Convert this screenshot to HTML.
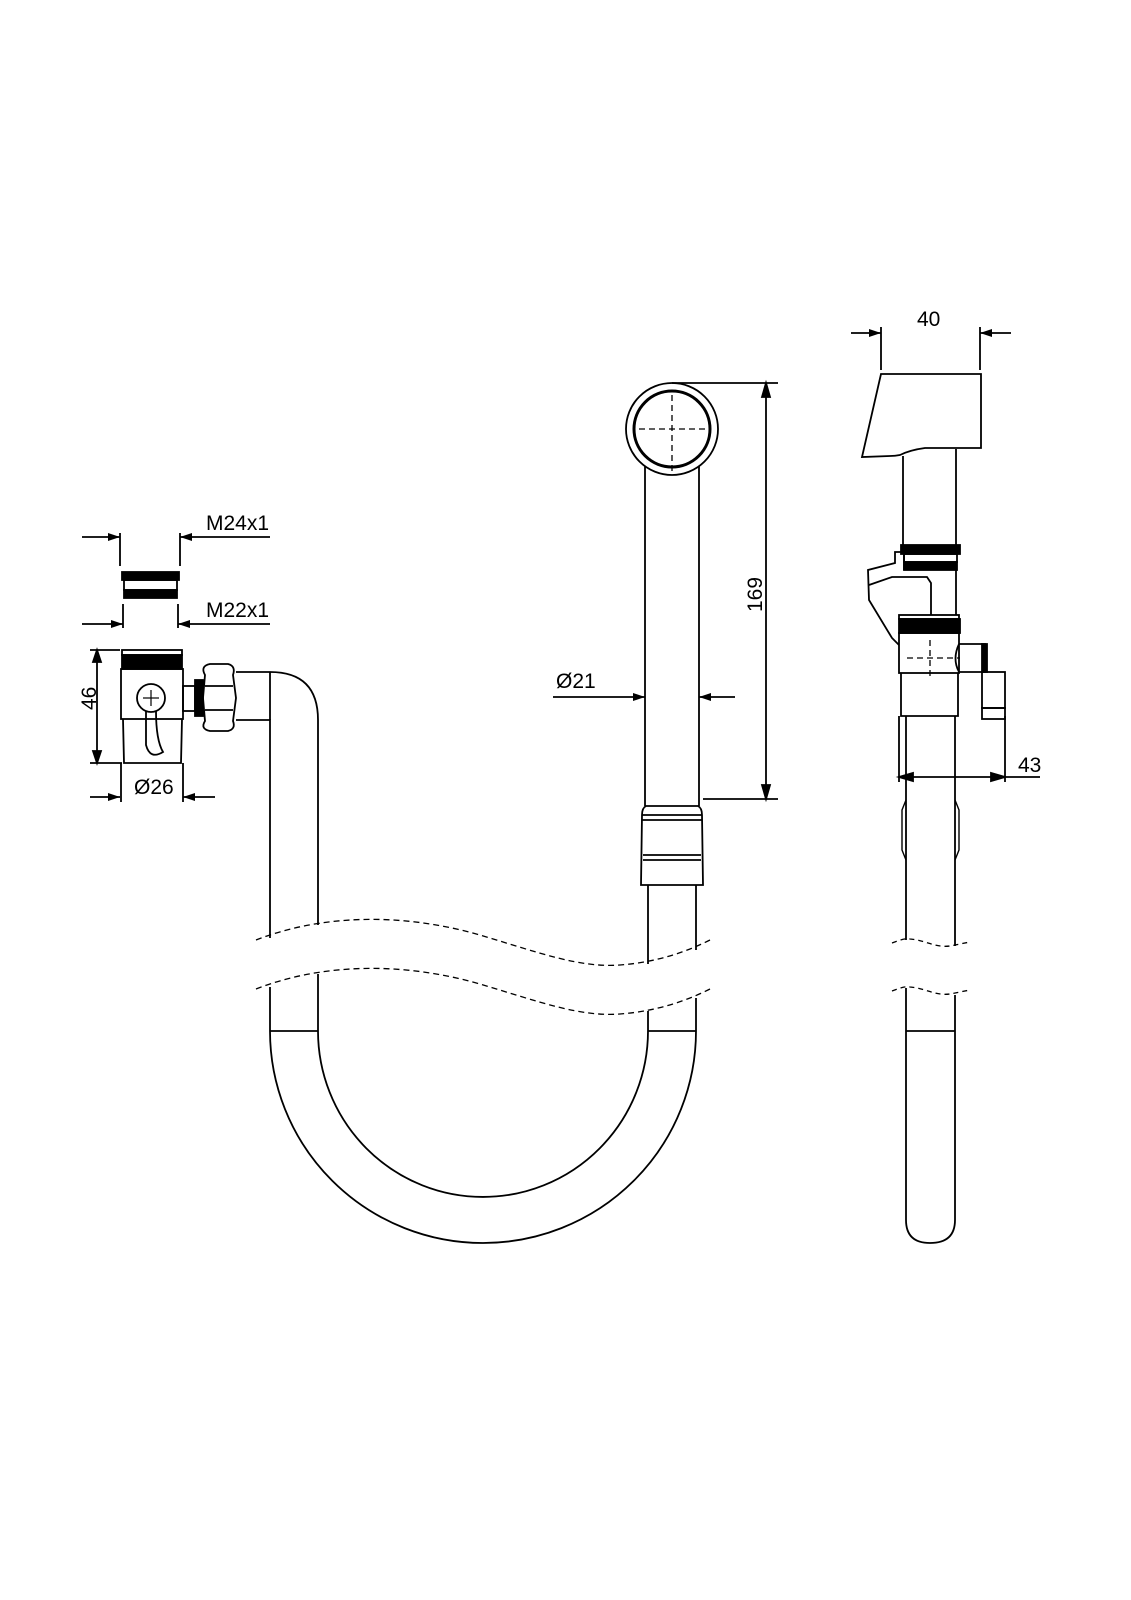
<!DOCTYPE html>
<html><head><style>
html,body{margin:0;padding:0;background:#fff;}
svg{display:block;}
text{font-family:"Liberation Sans",sans-serif;font-size:21px;fill:#000;}
</style></head><body>
<svg width="1131" height="1600" viewBox="0 0 1131 1600" xmlns="http://www.w3.org/2000/svg">
<defs>
<marker id="a" markerWidth="12" markerHeight="8" refX="12" refY="4" orient="auto" markerUnits="userSpaceOnUse"><path d="M0,0 L12,4 L0,8 z" fill="#000"/></marker>
</defs>
<g fill="none" stroke="#000" stroke-width="1.8">
<line x1="82" y1="537" x2="120" y2="537" marker-end="url(#a)"/>
<line x1="270" y1="537" x2="180" y2="537" marker-end="url(#a)"/>
<line x1="120" y1="533" x2="120" y2="566"/><line x1="180" y1="533" x2="180" y2="566"/>
<line x1="82" y1="624" x2="123" y2="624" marker-end="url(#a)"/>
<line x1="270" y1="624" x2="178" y2="624" marker-end="url(#a)"/>
<line x1="123" y1="604" x2="123" y2="628"/><line x1="178" y1="604" x2="178" y2="628"/>
<rect x="122" y="572" width="57" height="8" fill="#000"/>
<rect x="124" y="580" width="53" height="10"/>
<rect x="124" y="590" width="53" height="8" fill="#000"/>
<line x1="90" y1="650" x2="120" y2="650"/><line x1="90" y1="763" x2="122" y2="763"/>
<line x1="97" y1="650" x2="97" y2="763"/>
<path d="M97,650 l-4,12 h8z M97,763 l-4,-12 h8z" fill="#000"/>
<rect x="122" y="650" width="60" height="5"/>
<rect x="122" y="655" width="60" height="14" fill="#000"/>
<rect x="121" y="669" width="62" height="50"/>
<path d="M123,719 L124,763 H181 L182,719"/>
<circle cx="151" cy="698" r="14"/>
<path d="M146,711 L146,745 Q150,760 163,752 Q156,740 156,711"/>
<line x1="143" y1="698" x2="159" y2="698" stroke-width="1.2"/><line x1="151" y1="690" x2="151" y2="706" stroke-width="1.2"/>
<line x1="90" y1="797" x2="120" y2="797" marker-end="url(#a)"/>
<line x1="215" y1="797" x2="183" y2="797" marker-end="url(#a)"/>
<line x1="121" y1="763" x2="121" y2="802"/><line x1="183" y1="763" x2="183" y2="802"/>
<rect x="183" y="686" width="12" height="25"/>
<rect x="195" y="680" width="8" height="36" fill="#000"/>
<path d="M205,675 Q200,666 210,664 H228 Q236,666 233,675 L236,698 L233,721 Q236,729 228,731 H210 Q200,729 205,721 L203,698 Z"/>
<line x1="205" y1="686" x2="233" y2="686"/><line x1="205" y1="710" x2="233" y2="710"/>
<path d="M236,672 H270 Q318,672 318,720 V925"/>
<path d="M236,720 H270 V938"/>
<line x1="270" y1="672" x2="270" y2="720"/>
<line x1="270" y1="987" x2="270" y2="1031"/><line x1="318" y1="974" x2="318" y2="1031"/>
<line x1="270" y1="1031" x2="318" y2="1031"/>
<path d="M270,1031 A213,212 0 0 0 696,1031"/>
<path d="M318,1031 A165,166 0 0 0 648,1031"/>
<line x1="648" y1="1031" x2="696" y2="1031"/>
<line x1="648" y1="1031" x2="648" y2="1011"/><line x1="696" y1="1031" x2="696" y2="998"/>
<path d="M256,940 C320,915 400,912 480,935 C540,953 580,968 620,965 C660,962 690,950 710,940" stroke-width="1.3" stroke-dasharray="6,4"/>
<path d="M256,989 C320,964 400,961 480,984 C540,1002 580,1017 620,1014 C660,1011 690,999 710,989" stroke-width="1.3" stroke-dasharray="6,4"/>
<line x1="648" y1="885" x2="648" y2="964"/><line x1="696" y1="885" x2="696" y2="950"/>
<path d="M641,885 L642,815 Q642,808 646,806 H698 Q702,808 702,815 L703,885 Z"/>
<line x1="642" y1="815" x2="702" y2="815"/><line x1="642" y1="820" x2="702" y2="820"/>
<line x1="643" y1="855" x2="701" y2="855"/><line x1="643" y1="860" x2="701" y2="860"/>
<line x1="645" y1="466" x2="645" y2="806"/><line x1="699" y1="466" x2="699" y2="806"/>
<circle cx="672" cy="429" r="46"/>
<circle cx="672" cy="429" r="38" stroke-width="3"/>
<path d="M639,429 H707 M672,395 V472" stroke-width="1.3" stroke-dasharray="6,4"/>
<line x1="672" y1="383" x2="778" y2="383"/><line x1="703" y1="799" x2="778" y2="799"/>
<line x1="766" y1="383" x2="766" y2="799"/>
<path d="M766,383 l-4,14 h8z M766,799 l-4,-14 h8z" fill="#000"/>
<line x1="553" y1="697" x2="645" y2="697" marker-end="url(#a)"/>
<line x1="735" y1="697" x2="699" y2="697" marker-end="url(#a)"/>
<line x1="851" y1="333" x2="881" y2="333" marker-end="url(#a)"/>
<line x1="1011" y1="333" x2="980" y2="333" marker-end="url(#a)"/>
<line x1="881" y1="327" x2="881" y2="370"/><line x1="980" y1="327" x2="980" y2="370"/>
<path d="M881,374 H981 V448 H925 Q910,450 900,455 Q895,456 890,456 L862,457 Z"/>
<line x1="903" y1="456" x2="903" y2="545"/><line x1="956" y1="449" x2="956" y2="545"/>
<rect x="901" y="545" width="59" height="9" fill="#000"/>
<rect x="904" y="554" width="53" height="8"/>
<rect x="904" y="562" width="53" height="8" fill="#000"/>
<path d="M904,570 V552 H895 V563 L868,570 L869,600 L892,638 L899,645"/>
<path d="M869,585 L892,577 H927 L931,583 V615"/>
<line x1="956" y1="570" x2="956" y2="615"/>
<rect x="899" y="615" width="60" height="4"/>
<rect x="899" y="619" width="61" height="14" fill="#000"/>
<rect x="899" y="633" width="60" height="40"/>
<path d="M901,673 V716 H958 V673"/>
<path d="M959,644 H985 V672 H959 Q952,659 959,644"/>
<rect x="982" y="644" width="5" height="28" fill="#000"/>
<rect x="982" y="672" width="23" height="36"/>
<rect x="982" y="708" width="23" height="11"/>
<line x1="1005" y1="716" x2="1005" y2="782"/>
<path d="M907,658 H960 M930,640 V680" stroke-width="1.3" stroke-dasharray="6,4"/>
<line x1="899" y1="716" x2="899" y2="782"/>
<line x1="899" y1="777" x2="1040" y2="777"/>
<path d="M899,777 l14,-4 v8z M1005,777 l-14,-4 v8z" fill="#000"/>
<line x1="906" y1="716" x2="906" y2="940"/><line x1="955" y1="716" x2="955" y2="946"/>
<path d="M906,800 l-4,10 v40 l4,10 M955,800 l4,10 v40 l-4,10" stroke-width="1.4"/>
<path d="M892,943 C900,940 905,938 910,939 C925,940 935,948 950,946 C955,945 965,943 970,942" stroke-width="1.3" stroke-dasharray="5,4"/>
<path d="M892,991 C900,988 905,986 910,987 C925,988 935,996 950,994 C955,993 965,991 970,990" stroke-width="1.3" stroke-dasharray="5,4"/>
<line x1="906" y1="988" x2="906" y2="1220"/><line x1="955" y1="995" x2="955" y2="1220"/>
<line x1="906" y1="1031" x2="955" y2="1031"/>
<path d="M906,1220 Q906,1243 930,1243 Q955,1243 955,1220"/>
</g>
<text x="206" y="530">M24x1</text>
<text x="206" y="617">M22x1</text>
<text x="134" y="794">Ø26</text>
<text transform="translate(96,710) rotate(-90)">46</text>
<text x="556" y="688">Ø21</text>
<text transform="translate(762,612) rotate(-90)">169</text>
<text x="917" y="326">40</text>
<text x="1018" y="772">43</text>
</svg>
</body></html>
